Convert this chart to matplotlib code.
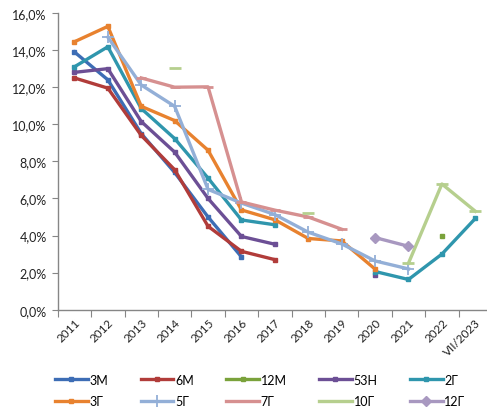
import numpy as np
import matplotlib.pyplot as plt
from matplotlib.ticker import FuncFormatter

nan = np.nan

years = ['2011', '2012', '2013', '2014', '2015', '2016', '2017',
         '2018', '2019', '2020', '2021', '2022', 'VII/2023']

# yields, %
m3 = [13.9, 12.4, 9.5, 7.4, 5.0, 2.85, nan, nan, nan, nan, nan, nan, nan]
m6 = [12.5, 11.95, 9.4, 7.55, 4.5, 3.15, 2.7, nan, nan, nan, nan, nan, nan]
m12 = [nan, nan, nan, nan, nan, nan, nan, nan, nan, nan, nan, 3.97, nan]
w53 = [12.8, 13.0, 10.15, 8.5, 6.0, 3.95, 3.53, nan, nan, 1.85, nan, nan, nan]
y2 = [13.1, 14.18, 10.85, 9.23, 7.1, 4.84, 4.58, nan, nan, 2.06, 1.63, 3.0, 4.92]
y3 = [14.45, 15.28, 10.97, 10.2, 8.6, 5.38, 4.85, 3.84, 3.71, 2.19, nan, nan, nan]
y5 = [nan, 14.7, 12.12, 10.97, 6.49, 5.75, 5.13, 4.18, 3.55, 2.63, 2.2, nan, nan]
y7 = [nan, nan, 12.5, 12.0, 12.02, 5.81, 5.37, 5.0, 4.34, nan, nan, nan, nan]
y10 = [nan, nan, nan, 13.05, nan, nan, nan, 5.22, nan, nan, 2.51, 6.78, 5.31]
y12 = [nan, nan, nan, nan, nan, nan, nan, nan, nan, 3.89, 3.42, nan, nan]

series = [
    ('3M', m3, '#3d6db5', 's', 3.5),
    ('6M', m6, '#b13c3a', 's', 3.5),
    ('12M', m12, '#7aa23b', 's', 3.5),
    ('53Н', w53, '#6c4f95', 's', 3.5),
    ('2Г', y2, '#2f96ad', 's', 3.5),
    ('3Г', y3, '#e8822f', 's', 3.5),
    ('5Г', y5, '#93afd7', '+', 8),
    ('7Г', y7, '#d69090', '_', 7),
    ('10Г', y10, '#b6cf8e', '_', 8),
    ('12Г', y12, '#a898c0', 'D', 5.5),
]

plt.rcParams['font.family'] = ['Lato', 'DejaVu Sans']

fig = plt.figure(figsize=(4.87, 4.14), dpi=100)
ax = fig.add_axes([0.1185, 0.2495, 0.8918, 0.7166])

x = np.arange(len(years))
handles = []
for name, vals, col, mk, ms in series:
    mew = {'_': 2, '+': 1.3}.get(mk, 1)
    h, = ax.plot(x, vals, color=col, lw=2.4, marker=mk, ms=ms,
                 mew=mew, mec=col, mfc=col,
                 label=name, solid_joinstyle='round')
    handles.append(h)

ax.set_xlim(-0.5, len(years) - 0.5)
ax.set_ylim(0, 16)
ax.set_yticks(np.arange(0, 17, 2))
ax.yaxis.set_major_formatter(FuncFormatter(lambda v, p: f'{v:.1f}%'.replace('.', ',')))

# ticks between categories, labels at category centres
ax.set_xticks(np.arange(len(years) + 1) - 0.5)
ax.set_xticklabels([])
ax.set_xticks(x, minor=True)
ax.set_xticklabels(years, minor=True, rotation=45, ha='right',
                   rotation_mode='anchor', fontsize=8.5, color='#222222')
ax.tick_params(axis='x', which='major', length=5, color='#868686', direction='out')
ax.tick_params(axis='x', which='minor', length=0, pad=5)
ax.tick_params(axis='y', length=4, color='#868686', labelsize=9,
               labelcolor='#222222', pad=4)

for s in ['top', 'right']:
    ax.spines[s].set_visible(False)
for s in ['left', 'bottom']:
    ax.spines[s].set_color('#868686')
    ax.spines[s].set_linewidth(1)

# legend filled row by row, as in the original
order = [0, 5, 1, 6, 2, 7, 3, 8, 4, 9]
fig.legend([handles[i] for i in order], [series[i][0] for i in order],
           ncol=5, loc='upper left', bbox_to_anchor=(0.113, 0.095),
           frameon=False, fontsize=9, handlelength=2.6, handletextpad=0.15,
           columnspacing=2.6, labelspacing=0.75, borderpad=0, borderaxespad=0)

fig.savefig('out.png', dpi=100)
